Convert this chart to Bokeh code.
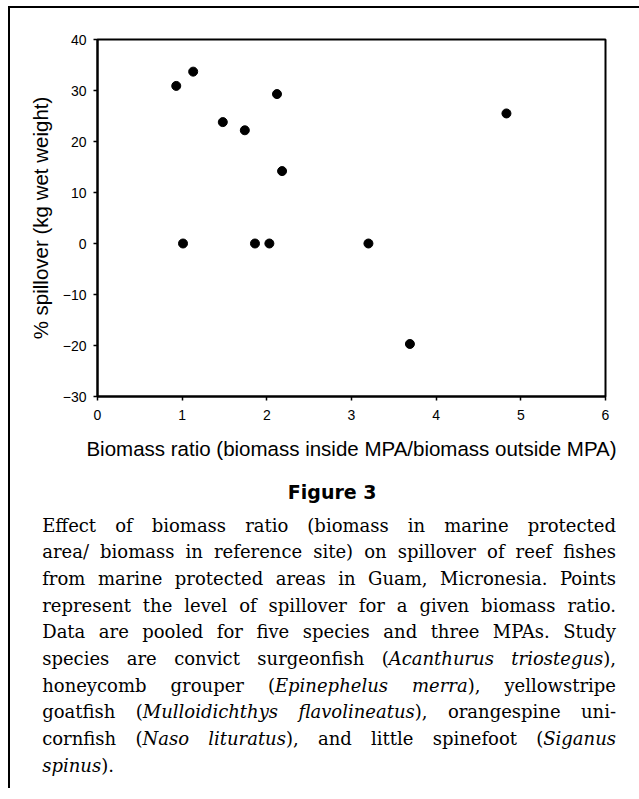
import os
import subprocess

from bokeh.plotting import figure
from bokeh.models import ColumnDataSource, Range1d, FixedTicker
from bokeh.layouts import column
from bokeh.embed import file_html
from bokeh.resources import INLINE
from bokeh.core.properties import value

# ---------------- data ----------------
biomass_ratio = [0.93, 1.13, 1.01, 1.48, 1.74, 1.86, 2.03, 2.12, 2.18, 3.20, 3.69, 4.83]
spillover_pct = [30.9, 33.7, 0.0, 23.8, 22.2, 0.0, 0.0, 29.3, 14.2, 0.0, -19.7, 25.5]

x_ticks = [0, 1, 2, 3, 4, 5, 6]
x_tick_labels = ["0", "1", "2", "3", "4", "5", "6"]
y_ticks = [-30, -20, -10, 0, 10, 20, 30, 40]
y_tick_labels = ["\u221230", "\u221220", "\u221210", "0", "10", "20", "30", "40"]

x_label = "Biomass ratio (biomass inside MPA/biomass outside MPA)"
y_label = "% spillover (kg wet weight)"
fig_title = "Figure 3"
# _..._ marks italic text
caption_lines = [
    "Effect of biomass ratio (biomass in marine protected",
    "area/ biomass in reference site) on spillover of reef fishes",
    "from marine protected areas in Guam, Micronesia. Points",
    "represent the level of spillover for a given biomass ratio.",
    "Data are pooled for five species and three MPAs. Study",
    "species are convict surgeonfish (_Acanthurus triostegus_),",
    "honeycomb grouper (_Epinephelus merra_), yellowstripe",
    "goatfish (_Mulloidichthys flavolineatus_), orangespine uni-",
    "cornfish (_Naso lituratus_), and little spinefoot (_Siganus_",
    "_spinus_).",
]

SANS = "Liberation Sans"
SERIF = "DejaVu Serif"

# ---------------- chart ----------------
WA, HA = 629, 462
src = ColumnDataSource(dict(x=biomass_ratio, y=spillover_pct))

pA = figure(width=WA, height=HA, output_backend="svg", toolbar_location=None,
            x_range=Range1d(0, 6), y_range=Range1d(-30, 40),
            min_border_left=87, min_border_right=WA - 87 - 508, min_border_top=31,
            min_border_bottom=74, background_fill_color="white",
            border_fill_color="white")
pA.scatter(x="x", y="y", source=src, size=9, color="black")
pA.grid.visible = False
pA.outline_line_color = "black"
pA.outline_line_width = 2

pA.xaxis[0].ticker = FixedTicker(ticks=x_ticks)
pA.xaxis[0].major_label_overrides = {t: l for t, l in zip(x_ticks, x_tick_labels)}
pA.yaxis[0].ticker = FixedTicker(ticks=y_ticks)
pA.yaxis[0].major_label_overrides = {t: l for t, l in zip(y_ticks, y_tick_labels)}
pA.xaxis[0].axis_label = x_label
pA.yaxis[0].axis_label = y_label

for ax in (pA.xaxis[0], pA.yaxis[0]):
    ax.axis_line_color = "black"
    ax.axis_line_width = 2
    ax.major_tick_line_color = "black"
    ax.major_tick_line_width = 1.5
    ax.major_tick_out = 4
    ax.major_tick_in = 0
    ax.minor_tick_line_color = None
    ax.major_label_text_font = SANS
    ax.major_label_text_font_size = "14px"
    ax.major_label_text_color = "black"
    ax.axis_label_text_font = SANS
    ax.axis_label_text_font_size = "20.5px"
    ax.axis_label_text_font_style = "normal"
    ax.axis_label_text_color = "black"
pA.xaxis[0].major_label_standoff = 9
pA.yaxis[0].major_label_standoff = 7
pA.xaxis[0].axis_label_standoff = 14
pA.yaxis[0].axis_label_standoff = 8

# ---------------- caption ----------------
WB, HB = 629, 318
pB = figure(width=WB, height=HB, output_backend="svg", toolbar_location=None,
            x_range=Range1d(0, WB), y_range=Range1d(HB, 0),
            x_axis_location=None, y_axis_location=None, min_border=0,
            background_fill_color="white", border_fill_color="white")
pB.grid.visible = False
pB.outline_line_color = None


def find_font(fname, pattern):
    for d in ["/usr/share/fonts", "/usr/local/share/fonts",
              os.path.expanduser("~/.fonts"), os.path.expanduser("~/.local/share/fonts")]:
        if os.path.isdir(d):
            for root, _, files in os.walk(d):
                if fname in files:
                    return os.path.join(root, fname)
    try:
        r = subprocess.run(["fc-match", "-f", "%{file}", pattern],
                           capture_output=True, text=True, timeout=5)
        if r.returncode == 0 and r.stdout.strip():
            return r.stdout.strip()
    except Exception:
        pass
    return None


def make_measure(fname, pattern, fallback_em):
    try:
        from PIL import ImageFont
        path = find_font(fname, pattern)
        f = ImageFont.truetype(path, 100)
        return lambda s: f.getlength(s) / 100.0
    except Exception:
        return lambda s: len(s) * fallback_em


m_reg = make_measure("DejaVuSerif.ttf", "DejaVu Serif", 0.58)
m_ita = make_measure("DejaVuSerif-Italic.ttf", "DejaVu Serif:italic", 0.55)


def parse(line):
    words, cur, buf, ital = [], [], "", False
    for ch in line:
        if ch == "_":
            if buf:
                cur.append((buf, ital))
                buf = ""
            ital = not ital
        elif ch == " ":
            if buf:
                cur.append((buf, ital))
                buf = ""
            if cur:
                words.append(cur)
                cur = []
        else:
            buf += ch
    if buf:
        cur.append((buf, ital))
    if cur:
        words.append(cur)
    return words


def seg_w(seg):
    t, it = seg
    return m_ita(t) if it else m_reg(t)


cap_left, cap_right = 31.7, 605.5
cap_w = cap_right - cap_left
base0, lead = 54.7, 26.67
parsed = [parse(l) for l in caption_lines]
space_em = m_reg(" ")

nat = 0
for words in parsed[:-1]:
    tot = sum(seg_w(s) for w in words for s in w) + space_em * (len(words) - 1)
    nat = max(nat, tot)
cap_size = min(18.0, cap_w / nat)
space_w = space_em * cap_size

reg = dict(x=[], y=[], text=[])
ita = dict(x=[], y=[], text=[])
for i, words in enumerate(parsed):
    yb = base0 + i * lead
    widths = [sum(seg_w(s) for s in w) * cap_size for w in words]
    if i < len(parsed) - 1 and len(words) > 1:
        gap = (cap_w - sum(widths)) / (len(words) - 1)
    else:
        gap = space_w
    x = cap_left
    for w, ww in zip(words, widths):
        sx = x
        for seg in w:
            d = ita if seg[1] else reg
            d["x"].append(sx)
            d["y"].append(yb)
            d["text"].append(seg[0])
            sx += seg_w(seg) * cap_size
        x += ww + gap

common = dict(text_font=value(SERIF), text_font_size=value(f"{cap_size:.2f}px"),
              text_align="left", text_baseline="alphabetic", text_color="black")
pB.text(x="x", y="y", text="text", source=ColumnDataSource(reg),
        text_font_style="normal", **common)
pB.text(x="x", y="y", text="text", source=ColumnDataSource(ita),
        text_font_style="italic", **common)

pB.text(x=[321.7], y=[21.3], text=[fig_title], text_font=value("DejaVu Sans"),
        text_font_size=value("19px"), text_font_style="bold", text_align="center",
        text_baseline="alphabetic", text_color="black")

rootA = column(pA, spacing=0,
               styles={"margin-left": "8px", "margin-top": "6px",
                       "border-top": "2px solid black", "border-left": "2px solid black"})
rootB = column(pB, spacing=0,
               styles={"margin-left": "8px", "border-left": "2px solid black"})

open("out.html", "w").write(file_html([rootA, rootB], INLINE))
